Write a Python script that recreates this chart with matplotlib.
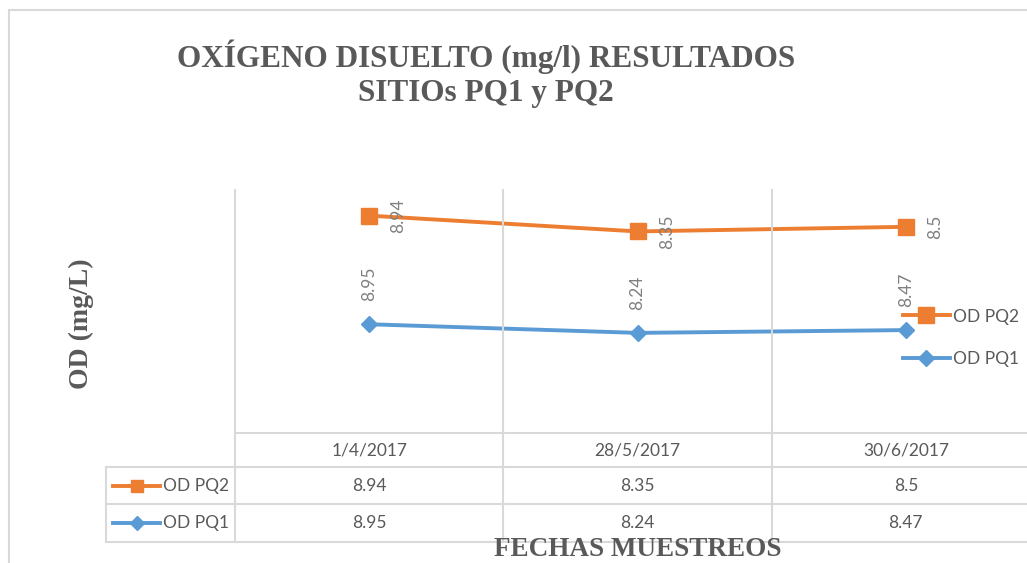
import matplotlib
matplotlib.use("Agg")
import matplotlib.pyplot as plt
from matplotlib.lines import Line2D
from matplotlib.patches import Rectangle
import matplotlib.transforms as mtransforms
from matplotlib import font_manager
import numpy as np

# ---------------- data ----------------
dates = ["1/4/2017", "28/5/2017", "30/6/2017"]
od_pq1 = [8.95, 8.24, 8.47]
od_pq2 = [8.94, 8.35, 8.5]
series_names = ["OD PQ2", "OD PQ1"]
title = "OXÍGENO DISUELTO (mg/l) RESULTADOS\nSITIOs PQ1 y PQ2"
ylabel = "OD (mg/L)"
xlabel = "FECHAS MUESTREOS"

# ---------------- style ----------------
W, H = 1027, 563
ORANGE = "#ED7D31"
BLUE = "#5B9BD5"
GRID = "#D9D9D9"
TXT = "#595959"
LBL = "#7F7F7F"
avail = {f.name for f in font_manager.fontManager.ttflist}
SANS = "Lato" if "Lato" in avail else "DejaVu Sans"
SERIF = "Liberation Serif" if "Liberation Serif" in avail else "DejaVu Serif"
FS = 12.5

def fx(px):
    return px / W

def fy(py):
    return 1 - py / H

fig = plt.figure(figsize=(W / 100, H / 100), dpi=100)
fig.patch.set_facecolor("white")

# chart border
fig.add_artist(Rectangle((fx(9), fy(575)), fx(1045) - fx(9), fy(10) - fy(575),
                         transform=fig.transFigure, fill=False, edgecolor=GRID,
                         linewidth=1.5))

# plot area
ax = fig.add_axes([fx(235), fy(433), fx(1040) - fx(235), fy(190) - fy(433)])
ax.set_xlim(-0.5, 2.5)
ax.set_ylim(0, 20)
for s in ax.spines.values():
    s.set_visible(False)
ax.set_xticks([])
ax.set_yticks([])
ax.patch.set_alpha(0)

x = np.arange(len(dates))
y1 = np.array(od_pq1)
y2 = y1 + np.array(od_pq2)  # stacked line chart

ax.plot(x, y2, color=ORANGE, lw=2.8, marker="s", ms=11, mec=ORANGE, mfc=ORANGE,
        label=series_names[0], clip_on=False, zorder=3)
ax.plot(x, y1, color=BLUE, lw=2.8, marker="D", ms=8.5, mec=BLUE, mfc=BLUE,
        label=series_names[1], clip_on=False, zorder=3)

for xi, v, yv in zip(x, od_pq1, y1):
    ax.annotate(f"{v:g}", (xi, yv), xytext=(0, 29), textcoords="offset points",
                rotation=90, ha="center", va="center", color=LBL,
                fontsize=FS, family=SANS, zorder=4)
for xi, v, yv in zip(x, od_pq2, y2):
    ax.annotate(f"{v:g}", (xi, yv), xytext=(21, 0), textcoords="offset points",
                rotation=90, ha="center", va="center", color=LBL,
                fontsize=FS, family=SANS, zorder=4)

# legend
leg = ax.legend(loc="center left", bbox_to_anchor=(fx(903), fy(338)),
                bbox_transform=fig.transFigure, frameon=False,
                prop={"family": SANS, "size": FS}, handlelength=2.7,
                handletextpad=0.2, labelspacing=1.55, borderpad=0,
                borderaxespad=0)
for t in leg.get_texts():
    t.set_color(TXT)

# grid + data table
bt = mtransforms.blended_transform_factory(ax.transData, fig.transFigure)
lw_t = 1.5
for b in [-0.5, 0.5, 1.5, 2.5]:
    fig.add_artist(Line2D([b, b], [fy(190), fy(542)], transform=bt,
                          color=GRID, lw=lw_t))
fig.add_artist(Line2D([fx(235), fx(1040)], [fy(433), fy(433)],
                      transform=fig.transFigure, color=GRID, lw=lw_t))
for yy in [467, 504, 542]:
    fig.add_artist(Line2D([fx(106), fx(1040)], [fy(yy), fy(yy)],
                          transform=fig.transFigure, color=GRID, lw=lw_t))
fig.add_artist(Line2D([fx(106), fx(106)], [fy(467), fy(542)],
                      transform=fig.transFigure, color=GRID, lw=lw_t))

for xi, d in zip(x, dates):
    fig.text(xi, fy(450), d, transform=bt, ha="center", va="center",
             color=TXT, fontsize=FS, family=SANS)
rows = [(series_names[0], od_pq2, ORANGE, "s", 9, 486),
        (series_names[1], od_pq1, BLUE, "D", 7, 523)]
for name, vals, col, mk, ms, yc in rows:
    for xi, v in zip(x, vals):
        fig.text(xi, fy(yc), f"{v:g}", transform=bt, ha="center", va="center",
                 color=TXT, fontsize=FS, family=SANS)
    fig.add_artist(Line2D([fx(113), fx(160)], [fy(yc), fy(yc)],
                          transform=fig.transFigure, color=col, lw=2.8))
    fig.add_artist(Line2D([fx(137)], [fy(yc)], transform=fig.transFigure,
                          color=col, marker=mk, ms=ms, mec=col, mfc=col, lw=0))
    fig.text(fx(163), fy(yc), name, ha="left", va="center", color=TXT,
             fontsize=FS, family=SANS)

# titles / labels
fig.text(fx(486), fy(74), title, ha="center", va="center", color=TXT,
         fontsize=22.5, family=SERIF, fontweight="bold", linespacing=1.25)
fig.text(fx(81), fy(324), ylabel, rotation=90, ha="center", va="center",
         color=TXT, fontsize=20, family=SERIF, fontweight="bold")
fig.text(fx(638), fy(549), xlabel, ha="center", va="center", color=TXT,
         fontsize=19.5, family=SERIF, fontweight="bold")

fig.savefig("out.png", dpi=100, facecolor="white")
